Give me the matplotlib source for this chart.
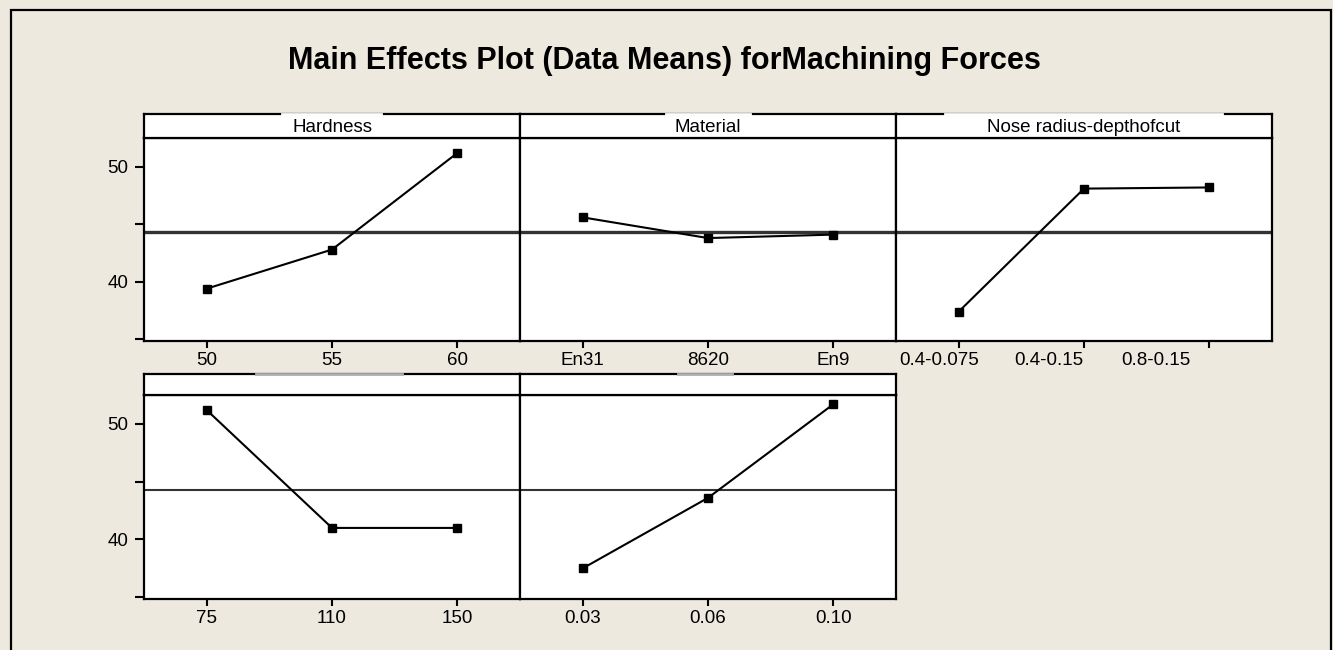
import matplotlib
matplotlib.use('Agg')
import matplotlib.pyplot as plt
from matplotlib.patches import Rectangle
from matplotlib.transforms import ScaledTranslation

plt.rcParams['font.family'] = ['Liberation Sans', 'DejaVu Sans']

# factor levels and data means
hardness_levels = ['50', '55', '60']
hardness_means = [39.4, 42.8, 51.2]
material_levels = ['En31', '8620', 'En9']
material_means = [45.6, 43.8, 44.1]
nose_levels = ['0.4-0.075', '0.4-0.15', '0.8-0.15']
nose_means = [37.4, 48.1, 48.2]
speed_levels = ['75', '110', '150']
speed_means = [51.2, 41.0, 41.0]
feed_levels = ['0.03', '0.06', '0.10']
feed_means = [37.5, 43.6, 51.7]
panel_titles = ['Hardness', 'Material', 'Nose radius-depthofcut', '', '']
grand_mean = 44.3
y_ticks = [35, 40, 45, 50]
y_ticklabels = ['', '40', '', '50']

bg = '#ede9df'
W, H = 1333, 650
fig = plt.figure(figsize=(W / 100, H / 100), dpi=100, facecolor=bg)

# outer frame
fig.patches.append(Rectangle((11 / W, -0.02), 1320 / W, 1.02 - 10 / H, transform=fig.transFigure,
                             fill=False, edgecolor='black', linewidth=1.6))

fig.text(664 / W, 1 - 69 / H, 'Main Effects Plot (Data Means) forMachining Forces',
         ha='center', va='baseline', fontsize=22, fontweight='bold')

panels = [
    (hardness_levels, hardness_means),
    (material_levels, material_means),
    (nose_levels, nose_means),
    (speed_levels, speed_means),
    (feed_levels, feed_means),
]

# (left px, data top px, data bottom px, strip height px)
lefts = [144, 520, 896, 144, 520]
rows = [(138, 341, 24), (138, 341, 24), (138, 341, 24), (395, 599, 21), (395, 599, 21)]
pw = 376
# gaps in strip top border (fractions of strip width) and their colour
gaps = [(0.366, 0.631, 'white'), (0.387, 0.611, 'white'), (0.131, 0.867, 'white'),
        (0.297, 0.687, '#b0b0b0'), (0.421, 0.565, '#b0b0b0')]
label_shift = {2: [-20, -35, -53]}

for i, (levels, means) in enumerate(panels):
    top, bottom, sh = rows[i]
    left = lefts[i]
    ax = fig.add_axes([left / W, 1 - bottom / H, pw / W, (bottom - top) / H])
    ax.set_facecolor('white')
    x = list(range(len(levels)))
    ax.axhline(grand_mean, color='#333333', lw=2.4 if i < 3 else 1.5, zorder=1)
    ax.plot(x, means, color='black', lw=1.5, marker='s', markersize=6, zorder=3)
    ax.set_xlim(-0.5, 2.5)
    ax.set_ylim(34.85, 52.5)
    ax.set_xticks(x)
    ax.set_xticklabels(levels)
    ax.tick_params(axis='x', direction='out', length=5, width=1.5, pad=3, labelsize=13.5,
                   colors='black')
    if left == 144:
        ax.set_yticks(y_ticks)
        ax.set_yticklabels(y_ticklabels)
        ax.tick_params(axis='y', direction='out', length=6.5, width=1.5, pad=5, labelsize=13.5)
    else:
        ax.set_yticks([])
    for sp in ax.spines.values():
        sp.set_linewidth(1.6)
    if i in label_shift:
        for lab, dx in zip(ax.get_xticklabels(), label_shift[i]):
            lab.set_transform(lab.get_transform() + ScaledTranslation(dx / 100, 0, fig.dpi_scale_trans))

    # strip with factor name
    sax = fig.add_axes([left / W, 1 - top / H, pw / W, sh / H])
    sax.set_facecolor('white')
    sax.set_xticks([])
    sax.set_yticks([])
    sax.set_xlim(0, 1)
    sax.set_ylim(0, 1)
    for sp in sax.spines.values():
        sp.set_linewidth(1.6)
    sax.text(0.5, 0.45, panel_titles[i], ha='center', va='center', fontsize=13.5)
    g0, g1, gc = gaps[i]
    sax.plot([g0, g1], [1, 1], color=gc, lw=2.0, clip_on=False, zorder=5)

fig.savefig('out.png', dpi=100, facecolor=bg)
